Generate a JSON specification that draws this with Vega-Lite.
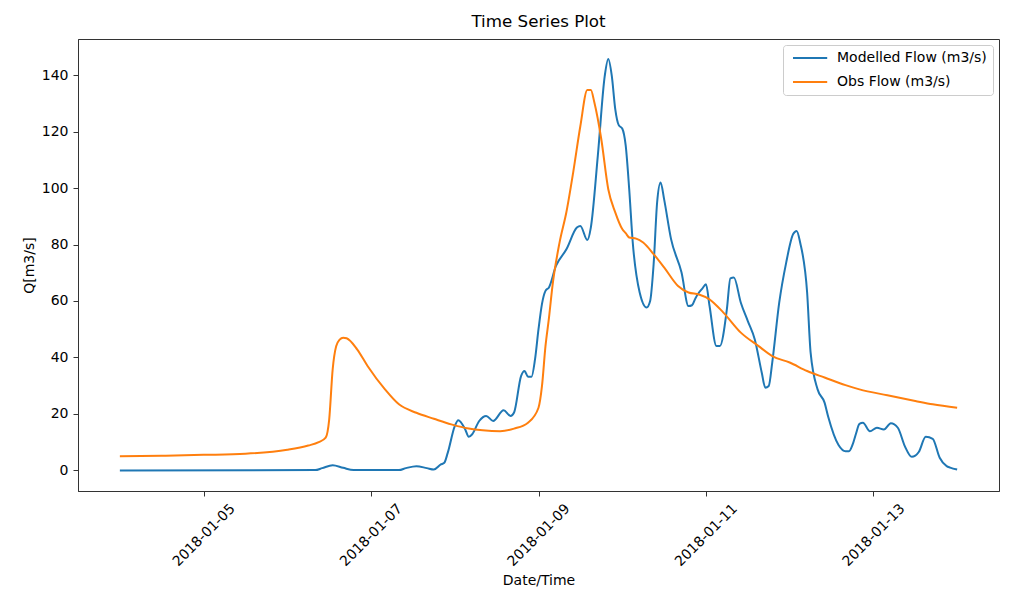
{
  "$schema": "https://vega.github.io/schema/vega-lite/v6.json",
  "width": 921,
  "height": 452,
  "autosize": {"type": "none"},
  "padding": {"left": 78, "top": 39, "right": 12, "bottom": 106},
  "background": "white",
  "title": {"text": "Time Series Plot", "fontSize": 16.7, "font": "DejaVu Sans", "fontWeight": "normal", "color": "black", "anchor": "middle", "frame": "group", "offset": 8},
  "datasets": {
    "obs": [
      {"t": "2018-01-04T00:00", "q": 5.0}, {"t": "2018-01-04T12:00", "q": 5.2}, {"t": "2018-01-05T00:00", "q": 5.5},
      {"t": "2018-01-05T12:00", "q": 5.9}, {"t": "2018-01-06T00:00", "q": 7.3}, {"t": "2018-01-06T06:00", "q": 8.8},
      {"t": "2018-01-06T09:00", "q": 10.0}, {"t": "2018-01-06T11:00", "q": 11.6}, {"t": "2018-01-06T12:00", "q": 18},
      {"t": "2018-01-06T13:00", "q": 35.8}, {"t": "2018-01-06T14:00", "q": 44}, {"t": "2018-01-06T15:00", "q": 46.3},
      {"t": "2018-01-06T16:00", "q": 47.0}, {"t": "2018-01-06T17:00", "q": 46.8}, {"t": "2018-01-06T20:00", "q": 42.9},
      {"t": "2018-01-06T23:00", "q": 37.0}, {"t": "2018-01-07T04:00", "q": 28.7}, {"t": "2018-01-07T08:00", "q": 23.4},
      {"t": "2018-01-07T13:00", "q": 20.4}, {"t": "2018-01-07T18:00", "q": 18.3}, {"t": "2018-01-07T23:00", "q": 16.3},
      {"t": "2018-01-08T04:00", "q": 14.8}, {"t": "2018-01-08T08:00", "q": 14.2}, {"t": "2018-01-08T13:00", "q": 13.9},
      {"t": "2018-01-08T17:00", "q": 14.8}, {"t": "2018-01-08T21:00", "q": 16.9}, {"t": "2018-01-09T00:00", "q": 22.2},
      {"t": "2018-01-09T01:00", "q": 29.9}, {"t": "2018-01-09T02:00", "q": 44}, {"t": "2018-01-09T03:00", "q": 54},
      {"t": "2018-01-09T04:00", "q": 65.3}, {"t": "2018-01-09T06:00", "q": 80.5}, {"t": "2018-01-09T08:00", "q": 91.5},
      {"t": "2018-01-09T10:00", "q": 106}, {"t": "2018-01-09T12:00", "q": 122}, {"t": "2018-01-09T14:00", "q": 134.7},
      {"t": "2018-01-09T15:00", "q": 134.7}, {"t": "2018-01-09T16:00", "q": 130.4}, {"t": "2018-01-09T18:00", "q": 117.3},
      {"t": "2018-01-09T20:00", "q": 99.6}, {"t": "2018-01-09T22:00", "q": 91.4}, {"t": "2018-01-10T00:00", "q": 85.5},
      {"t": "2018-01-10T01:00", "q": 84}, {"t": "2018-01-10T02:00", "q": 82.5}, {"t": "2018-01-10T04:00", "q": 82.1},
      {"t": "2018-01-10T06:00", "q": 80.7}, {"t": "2018-01-10T09:00", "q": 76.6}, {"t": "2018-01-10T12:00", "q": 71.9},
      {"t": "2018-01-10T16:00", "q": 65.3}, {"t": "2018-01-10T19:00", "q": 63}, {"t": "2018-01-10T22:00", "q": 62.3},
      {"t": "2018-01-11T01:00", "q": 60.6}, {"t": "2018-01-11T05:00", "q": 55.9}, {"t": "2018-01-11T10:00", "q": 48.8},
      {"t": "2018-01-11T15:00", "q": 44.1}, {"t": "2018-01-11T19:00", "q": 40.5}, {"t": "2018-01-12T00:00", "q": 38.2},
      {"t": "2018-01-12T05:00", "q": 35.2}, {"t": "2018-01-12T10:00", "q": 32.9}, {"t": "2018-01-12T16:00", "q": 30.2},
      {"t": "2018-01-12T20:00", "q": 28.7}, {"t": "2018-01-13T04:00", "q": 26.6}, {"t": "2018-01-13T12:00", "q": 24.6},
      {"t": "2018-01-13T17:00", "q": 23.4}, {"t": "2018-01-14T00:00", "q": 22.2}
    ],
    "mod": [
      {"t": "2018-01-04T00:00", "q": 0}, {"t": "2018-01-06T08:00", "q": 0.1}, {"t": "2018-01-06T10:00", "q": 0.8},
      {"t": "2018-01-06T13:00", "q": 1.8}, {"t": "2018-01-06T16:00", "q": 0.9}, {"t": "2018-01-06T19:00", "q": 0.1},
      {"t": "2018-01-07T08:00", "q": 0.1}, {"t": "2018-01-07T10:00", "q": 0.8}, {"t": "2018-01-07T13:00", "q": 1.5},
      {"t": "2018-01-07T16:00", "q": 0.8}, {"t": "2018-01-07T18:00", "q": 0.3}, {"t": "2018-01-07T20:00", "q": 2.1},
      {"t": "2018-01-07T21:00", "q": 2.7}, {"t": "2018-01-07T22:00", "q": 6.3}, {"t": "2018-01-08T00:00", "q": 15.7},
      {"t": "2018-01-08T01:00", "q": 17.8}, {"t": "2018-01-08T03:00", "q": 14.5}, {"t": "2018-01-08T04:00", "q": 11.9},
      {"t": "2018-01-08T05:00", "q": 12.8}, {"t": "2018-01-08T07:00", "q": 17.5}, {"t": "2018-01-08T09:00", "q": 19.3},
      {"t": "2018-01-08T11:00", "q": 17.5}, {"t": "2018-01-08T14:00", "q": 21.3}, {"t": "2018-01-08T16:00", "q": 19.3},
      {"t": "2018-01-08T17:00", "q": 20.5}, {"t": "2018-01-08T19:00", "q": 33.4}, {"t": "2018-01-08T20:00", "q": 35.2},
      {"t": "2018-01-08T21:00", "q": 33.2}, {"t": "2018-01-08T22:00", "q": 33.2}, {"t": "2018-01-08T23:00", "q": 39.3},
      {"t": "2018-01-09T00:00", "q": 50}, {"t": "2018-01-09T01:00", "q": 59}, {"t": "2018-01-09T02:00", "q": 63.6},
      {"t": "2018-01-09T03:00", "q": 64.8}, {"t": "2018-01-09T05:00", "q": 72.4}, {"t": "2018-01-09T08:00", "q": 78.3},
      {"t": "2018-01-09T11:00", "q": 86}, {"t": "2018-01-09T12:00", "q": 86.6}, {"t": "2018-01-09T14:00", "q": 81.6},
      {"t": "2018-01-09T15:00", "q": 86}, {"t": "2018-01-09T17:00", "q": 111.4}, {"t": "2018-01-09T19:00", "q": 139.8},
      {"t": "2018-01-09T20:00", "q": 145.7}, {"t": "2018-01-09T21:00", "q": 139.8}, {"t": "2018-01-09T22:00", "q": 128},
      {"t": "2018-01-09T23:00", "q": 122.3}, {"t": "2018-01-10T00:00", "q": 121.1}, {"t": "2018-01-10T01:00", "q": 115},
      {"t": "2018-01-10T02:00", "q": 99.6}, {"t": "2018-01-10T03:00", "q": 81}, {"t": "2018-01-10T05:00", "q": 63},
      {"t": "2018-01-10T07:00", "q": 57.7}, {"t": "2018-01-10T08:00", "q": 60}, {"t": "2018-01-10T09:00", "q": 73},
      {"t": "2018-01-10T10:00", "q": 94.9}, {"t": "2018-01-10T11:00", "q": 102}, {"t": "2018-01-10T12:00", "q": 96.1},
      {"t": "2018-01-10T14:00", "q": 81.9}, {"t": "2018-01-10T17:00", "q": 70.1}, {"t": "2018-01-10T19:00", "q": 58.2},
      {"t": "2018-01-10T20:00", "q": 58.5}, {"t": "2018-01-10T21:00", "q": 61}, {"t": "2018-01-10T22:00", "q": 63},
      {"t": "2018-01-10T23:00", "q": 64.5}, {"t": "2018-01-11T00:00", "q": 65.9}, {"t": "2018-01-11T01:00", "q": 58.5},
      {"t": "2018-01-11T03:00", "q": 44.1}, {"t": "2018-01-11T04:00", "q": 44.1}, {"t": "2018-01-11T06:00", "q": 57.1},
      {"t": "2018-01-11T07:00", "q": 68}, {"t": "2018-01-11T08:00", "q": 68.3}, {"t": "2018-01-11T10:00", "q": 59.4},
      {"t": "2018-01-11T12:00", "q": 52.9}, {"t": "2018-01-11T14:00", "q": 46.4}, {"t": "2018-01-11T16:00", "q": 34.6},
      {"t": "2018-01-11T17:00", "q": 29.3}, {"t": "2018-01-11T18:00", "q": 29.9}, {"t": "2018-01-11T19:00", "q": 38.2},
      {"t": "2018-01-11T21:00", "q": 59.4}, {"t": "2018-01-11T23:00", "q": 73.6}, {"t": "2018-01-12T01:00", "q": 83.7},
      {"t": "2018-01-12T02:00", "q": 84.8}, {"t": "2018-01-12T03:00", "q": 80.7}, {"t": "2018-01-12T05:00", "q": 63},
      {"t": "2018-01-12T06:00", "q": 41.7}, {"t": "2018-01-12T08:00", "q": 28.7}, {"t": "2018-01-12T10:00", "q": 24},
      {"t": "2018-01-12T11:00", "q": 19.2}, {"t": "2018-01-12T14:00", "q": 9}, {"t": "2018-01-12T16:00", "q": 6.8},
      {"t": "2018-01-12T17:00", "q": 6.8}, {"t": "2018-01-12T18:00", "q": 9}, {"t": "2018-01-12T19:00", "q": 13},
      {"t": "2018-01-12T20:00", "q": 16.5}, {"t": "2018-01-12T21:00", "q": 16.9}, {"t": "2018-01-12T23:00", "q": 13.9},
      {"t": "2018-01-13T01:00", "q": 15.1}, {"t": "2018-01-13T03:00", "q": 14.5}, {"t": "2018-01-13T05:00", "q": 16.7},
      {"t": "2018-01-13T07:00", "q": 15.1}, {"t": "2018-01-13T09:00", "q": 8.6}, {"t": "2018-01-13T11:00", "q": 4.8},
      {"t": "2018-01-13T12:00", "q": 5.2}, {"t": "2018-01-13T13:00", "q": 6.5}, {"t": "2018-01-13T15:00", "q": 11.9},
      {"t": "2018-01-13T17:00", "q": 11.2}, {"t": "2018-01-13T19:00", "q": 4.5}, {"t": "2018-01-13T21:00", "q": 1.5},
      {"t": "2018-01-13T22:00", "q": 1.0}, {"t": "2018-01-14T00:00", "q": 0.3}
    ]
  },
  "layer": [
    {
      "data": {"name": "mod"},
      "transform": [{"calculate": "'Modelled Flow (m3/s)'", "as": "series"}],
      "mark": {"type": "line", "strokeWidth": 2, "interpolate": "monotone"},
      "encoding": {
        "x": {"field": "t", "type": "temporal"},
        "y": {"field": "q", "type": "quantitative"},
        "color": {"field": "series", "type": "nominal"}
      }
    },
    {
      "data": {"name": "obs"},
      "transform": [{"calculate": "'Obs Flow (m3/s)'", "as": "series"}],
      "mark": {"type": "line", "strokeWidth": 2, "interpolate": "monotone"},
      "encoding": {
        "x": {"field": "t", "type": "temporal"},
        "y": {"field": "q", "type": "quantitative"},
        "color": {"field": "series", "type": "nominal"}
      }
    }
  ],
  "encoding": {
    "x": {
      "field": "t", "type": "temporal",
      "scale": {"domain": [{"year": 2018, "month": 1, "date": 3, "hours": 12}, {"year": 2018, "month": 1, "date": 14, "hours": 12}]},
      "axis": {
        "title": "Date/Time",
        "values": [
          {"year": 2018, "month": 1, "date": 5}, {"year": 2018, "month": 1, "date": 7}, {"year": 2018, "month": 1, "date": 9},
          {"year": 2018, "month": 1, "date": 11}, {"year": 2018, "month": 1, "date": 13}
        ],
        "format": "%Y-%m-%d",
        "labelAngle": -45, "labelAlign": "center", "labelBaseline": "middle",
        "labelPadding": 39, "labelOverlap": false, "labelFlush": false, "titlePadding": 5
      }
    },
    "y": {
      "field": "q", "type": "quantitative",
      "scale": {"domain": [-7.3, 152.8], "nice": false, "zero": false},
      "axis": {"title": "Q[m3/s]", "values": [0, 20, 40, 60, 80, 100, 120, 140], "labelPadding": 5, "titlePadding": 5}
    },
    "color": {
      "field": "series", "type": "nominal",
      "scale": {"domain": ["Modelled Flow (m3/s)", "Obs Flow (m3/s)"], "range": ["#1f77b4", "#ff7f0e"]},
      "legend": {
        "title": null, "orient": "top-right", "offset": 6, "padding": 6,
        "fillColor": "white", "strokeColor": "#cccccc", "cornerRadius": 3,
        "symbolType": "M-0.5,0H5.2", "symbolSize": 144, "symbolStrokeWidth": 2, "symbolFillColor": "transparent",
        "labelFontSize": 14, "labelFont": "DejaVu Sans", "labelColor": "black", "labelOffset": 34, "rowPadding": 10
      }
    }
  },
  "config": {
    "view": {"stroke": "#333333", "strokeWidth": 1},
    "axis": {
      "labelFont": "DejaVu Sans", "titleFont": "DejaVu Sans", "labelFontSize": 14, "titleFontSize": 14,
      "titleFontWeight": "normal", "labelColor": "black", "titleColor": "black",
      "domainColor": "#333333", "tickColor": "#333333", "tickSize": 5, "grid": false
    }
  }
}
